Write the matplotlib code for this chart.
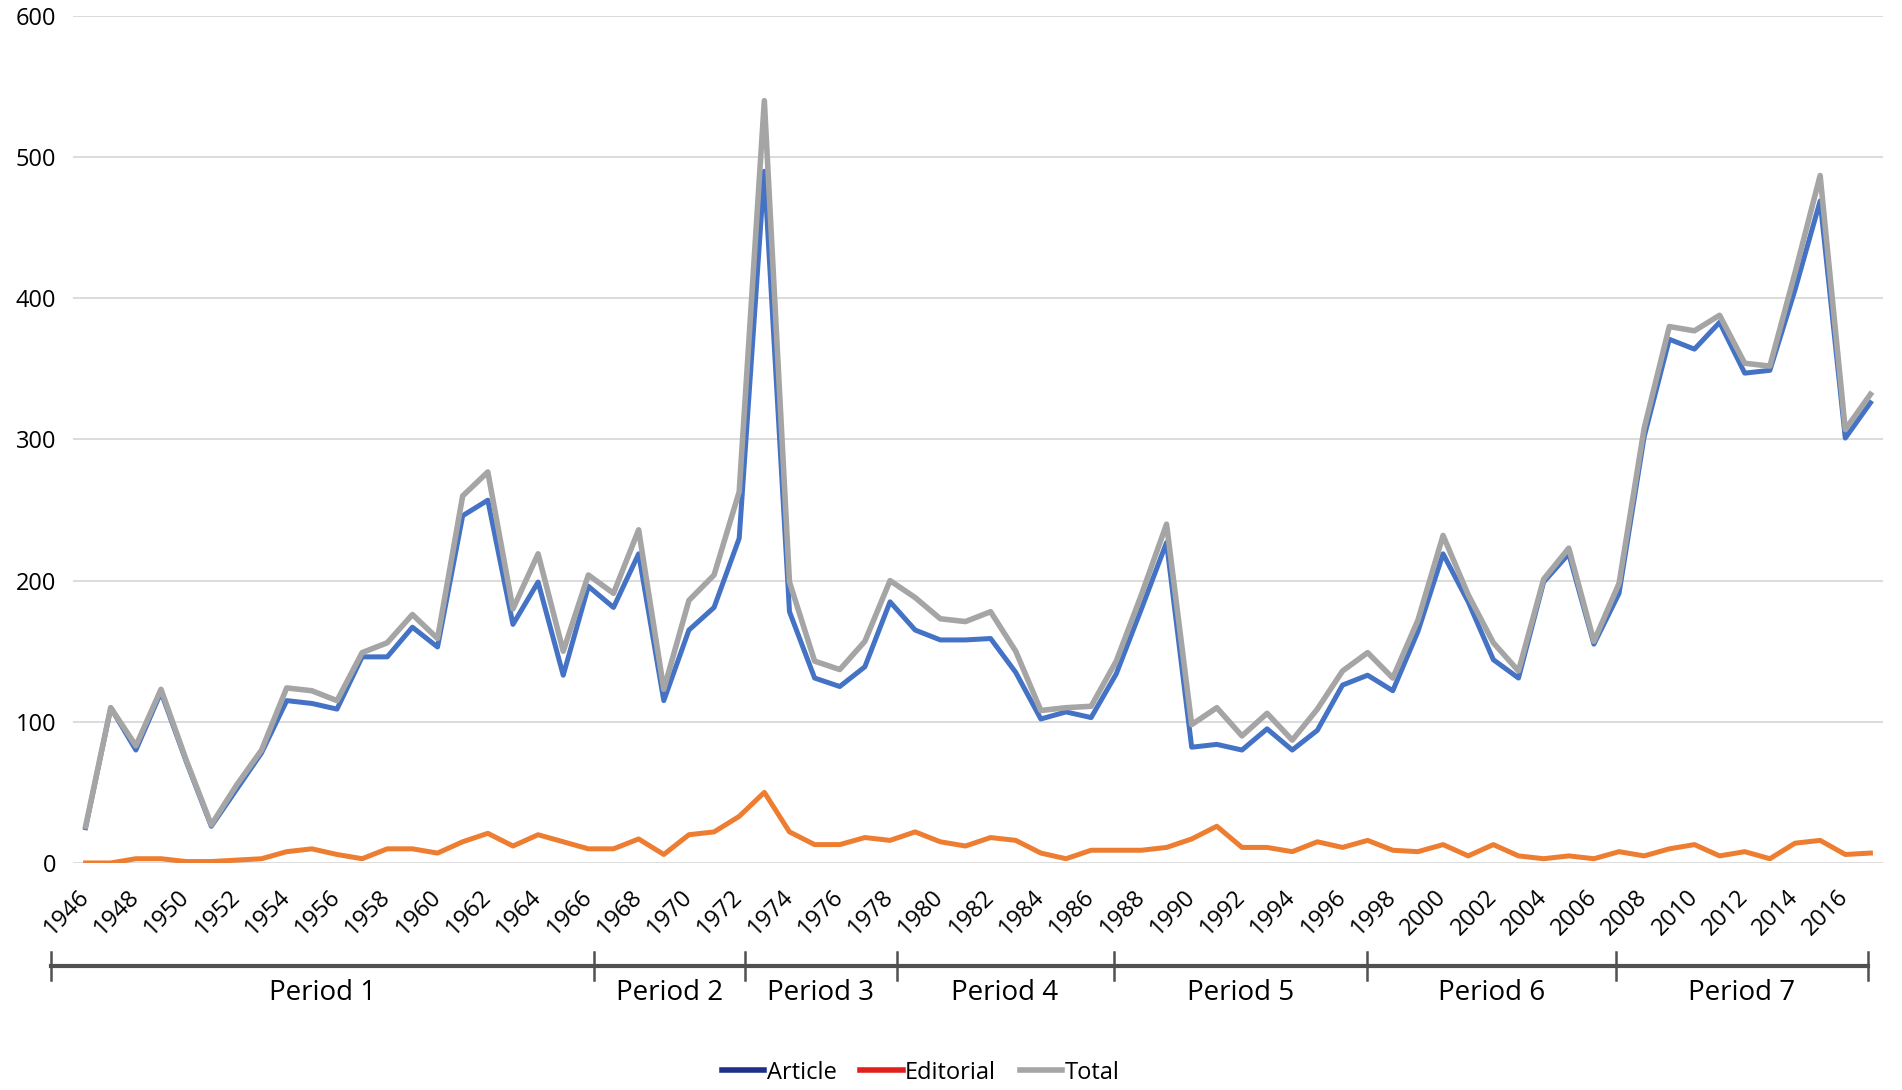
import matplotlib.pyplot as plt
from matplotlib.lines import Line2D
import matplotlib.transforms as mtransforms

plt.rcParams['font.family'] = ['Open Sans', 'DejaVu Sans']

years = list(range(1946, 2018))

article = [25, 110, 80, 121, 72, 26, 52, 78, 115, 113,
           109, 146, 146, 167, 153, 246, 257, 169, 199, 133,
           196, 181, 219, 115, 165, 181, 230, 490, 178, 131,
           125, 139, 185, 165, 158, 158, 159, 135, 102, 107,
           103, 134, 180, 227, 82, 84, 80, 95, 80, 94,
           126, 133, 122, 164, 219, 185, 144, 131, 199, 219,
           155, 191, 302, 371, 364, 383, 347, 349, 406, 469,
           301, 326]

editorial = [0, 0, 3, 3, 1, 1, 2, 3, 8, 10,
             6, 3, 10, 10, 7, 15, 21, 12, 20, 15,
             10, 10, 17, 6, 20, 22, 33, 50, 22, 13,
             13, 18, 16, 22, 15, 12, 18, 16, 7, 3,
             9, 9, 9, 11, 17, 26, 11, 11, 8, 15,
             11, 16, 9, 8, 13, 5, 13, 5, 3, 5,
             3, 8, 5, 10, 13, 5, 8, 3, 14, 16,
             6, 7]

total = [26, 110, 83, 123, 73, 27, 55, 80, 124, 122,
         115, 149, 156, 176, 159, 260, 277, 180, 219, 150,
         204, 191, 236, 123, 186, 204, 263, 540, 199, 143,
         137, 157, 200, 188, 173, 171, 178, 150, 108, 110,
         111, 143, 190, 240, 98, 110, 90, 106, 87, 109,
         136, 149, 131, 172, 232, 190, 156, 136, 201, 223,
         157, 198, 308, 380, 377, 388, 354, 352, 418, 487,
         307, 332]

periods = ['Period 1', 'Period 2', 'Period 3', 'Period 4',
           'Period 5', 'Period 6', 'Period 7']
period_edges = [1944.62, 1966.24, 1972.22, 1978.26, 1986.89,
                1996.98, 2006.87, 2016.91]

fig = plt.figure(figsize=(19.02, 10.9), dpi=100)
ax = fig.add_axes([0.0384, 0.2083, 0.9516, 0.777])

ax.plot(years, article, color='#4472C4', lw=3.6, zorder=3)
ax.plot(years, editorial, color='#ED7D31', lw=3.6, zorder=3)
ax.plot(years, total, color='#A5A5A5', lw=4.0, zorder=4)

ax.set_xlim(1945.5, 2017.5)
ax.set_ylim(0, 600)
ax.set_yticks(range(0, 601, 100))
ax.yaxis.grid(True, color='#d9d9d9', lw=1.3)
ax.set_axisbelow(True)
for s in ax.spines.values():
    s.set_visible(False)
ax.tick_params(axis='y', length=0, labelsize=17, pad=12)
ax.tick_params(axis='x', length=0, labelsize=17, pad=22)

ax.set_xticks(years[::2])
ax.set_xticklabels([str(y) for y in years[::2]], rotation=45,
                   ha='right', va='center', rotation_mode='anchor')

# period bracket under the axis
trans = mtransforms.blended_transform_factory(ax.transData, ax.transAxes)
ax.plot([period_edges[0], period_edges[-1]], [-0.1216, -0.1216],
        color='#505050', lw=3, transform=trans, clip_on=False)
for e in period_edges:
    ax.plot([e, e], [-0.105, -0.138], color='#505050', lw=1.8,
            transform=trans, clip_on=False)
for i, p in enumerate(periods):
    mid = (period_edges[i] + period_edges[i + 1]) / 2
    ax.text(mid, -0.154, p, transform=trans, ha='center', va='center',
            fontsize=20)

handles = [Line2D([], [], color='#1F2F8A', lw=4),
           Line2D([], [], color='#E0201B', lw=4),
           Line2D([], [], color='#A5A5A5', lw=4)]
fig.legend(handles, ['Article', 'Editorial', 'Total'], loc='center',
           bbox_to_anchor=(0.484, 0.016), ncol=3, frameon=False,
           fontsize=17, handlelength=1.8, handletextpad=0.1,
           columnspacing=1.0)

fig.savefig('out.png', dpi=100)
